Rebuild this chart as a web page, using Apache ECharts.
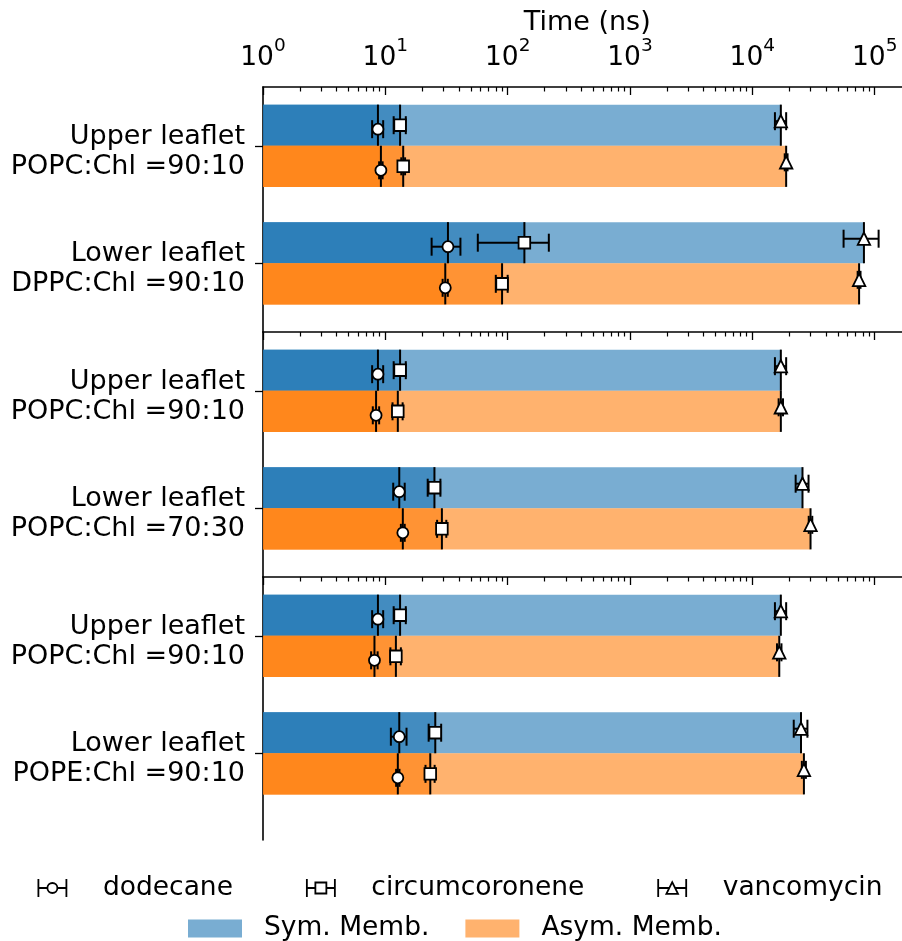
<!DOCTYPE html>
<html>
<head>
<meta charset="utf-8">
<script src="https://cdn.jsdelivr.net/npm/echarts@6/dist/echarts.min.js"></script>
<style>
  html, body { margin: 0; padding: 0; background: #fff; }
  #chart { width: 902px; height: 941px; }
</style>
</head>
<body>
<div id="chart"></div>
<script>
// Row labels per panel (top row = upper leaflet, bottom row = lower leaflet)
const rowLabels = [
  ['Upper leaflet\nPOPC:Chl =90:10', 'Lower leaflet\nDPPC:Chl =90:10'],
  ['Upper leaflet\nPOPC:Chl =90:10', 'Lower leaflet\nPOPC:Chl =70:30'],
  ['Upper leaflet\nPOPC:Chl =90:10', 'Lower leaflet\nPOPE:Chl =90:10']
];
const molecules = ['dodecane', 'circumcoronene', 'vancomycin'];
const membranes = ['Sym. Memb.', 'Asym. Memb.'];
const tickExponents = [0, 1, 2, 3, 4, 5];

// Times (ns) per row, in order: panel1 upper, panel1 lower, panel2 upper, panel2 lower, panel3 upper, panel3 lower
const symDodecane       = [8.7, 32.5, 8.7, 13.0, 8.7, 13.0];
const symDodecaneErr    = [0.9, 8.6, 0.9, 1.4, 0.9, 1.9];
const symCircum         = [13.2, 137, 13.2, 25.2, 13.2, 25.6];
const symCircumErr      = [1.5, 80, 1.5, 3.0, 1.5, 3.0];
const symVancomycin     = [17100, 81700, 17100, 25700, 17100, 25000];
const symVancomycinErr  = [1800, 26000, 1800, 3100, 1800, 3200];

const asymDodecane      = [9.2, 30.9, 8.4, 13.9, 8.15, 12.65];
const asymDodecaneErr   = [0.3, 1.5, 0.5, 0.5, 0.5, 0.4];
const asymCircum        = [14.0, 90, 12.65, 29.0, 12.2, 23.3];
const asymCircumErr     = [0.5, 10, 1.2, 2.5, 1.2, 2.0];
const asymVancomycin    = [18900, 74600, 17100, 29900, 16600, 26400];
const asymVancomycinErr = [500, 2000, 700, 1000, 700, 1000];

const FONT = 'DejaVu Sans';
const FS = 27;
const FS_LEGEND = 26.5;
const X_MAX = 2e5;
const BAR = 0.35;            // bar thickness in row units
const LABEL_DROP = 0.05;     // row labels sit slightly below their tick
const SYM_BLUE = '#1f77b4';
const ASYM_ORANGE = '#ff7f0e';
const markerShift = { dodecane: 0.034, circumcoronene: 0, vancomycin: -0.034 };

const values = {
  sym:  { dodecane: [symDodecane, symDodecaneErr], circumcoronene: [symCircum, symCircumErr], vancomycin: [symVancomycin, symVancomycinErr] },
  asym: { dodecane: [asymDodecane, asymDodecaneErr], circumcoronene: [asymCircum, asymCircumErr], vancomycin: [asymVancomycin, asymVancomycinErr] }
};

// minor ticks at 2..9 x 10^n, expressed as exponents for the helper axis
const minorTickExps = [];
for (let d = 0; d <= 5; d++) {
  for (let k = 2; k <= 9; k++) {
    const v = Math.log10(k * Math.pow(10, d));
    if (v < Math.log10(X_MAX)) minorTickExps.push(v);
  }
}

function fmtTick(val) {
  const e = Math.log10(val);
  const k = tickExponents.find(t => Math.abs(t - e) < 1e-6);
  return k === undefined ? '' : '{b|10}{e|' + k + '}';
}

// three overlapping translucent bars: to dodecane, circumcoronene and vancomycin times
function barRender(memb, color) {
  return function (params, api) {
    const r = api.value(0);
    const yA = api.coord([1, memb === 0 ? r - BAR : r])[1];
    const yB = api.coord([1, memb === 0 ? r : r + BAR])[1];
    const x0 = api.coord([1, r])[0];
    const children = [api.value(3), api.value(2), api.value(1)].map(v => {
      const x1 = api.coord([v, r])[0];
      return {
        type: 'rect',
        shape: { x: x0, y: Math.min(yA, yB), width: x1 - x0, height: Math.abs(yB - yA) },
        style: { fill: color, opacity: 0.6 }
      };
    });
    return { type: 'group', children };
  };
}

function markerShape(mol, x, y) {
  const st = { fill: '#fff', stroke: '#000', lineWidth: 1.8 };
  if (mol === 'dodecane') return { type: 'circle', shape: { cx: x, cy: y, r: 5.5 }, style: st };
  if (mol === 'circumcoronene') return { type: 'rect', shape: { x: x - 5.8, y: y - 5.8, width: 11.6, height: 11.6 }, style: st };
  return { type: 'polygon', shape: { points: [[x, y - 6.2], [x - 6.2, y + 6.2], [x + 6.2, y + 6.2]] }, style: st };
}

// marker with a vertical line across its bar and a horizontal error bar with caps
function markerRender(mol) {
  return function (params, api) {
    const r = api.value(0), memb = api.value(1), v = api.value(2), e = api.value(3);
    const yTop = api.coord([v, memb === 0 ? r - BAR : r])[1];
    const yBot = api.coord([v, memb === 0 ? r : r + BAR])[1];
    const ym = api.coord([v, r + (memb === 0 ? -BAR / 2 : BAR / 2) + markerShift[mol]])[1];
    const xv = api.coord([v, r])[0];
    const xl = api.coord([v - e, r])[0];
    const xr = api.coord([v + e, r])[0];
    const ls = { stroke: '#000', lineWidth: 2 };
    return {
      type: 'group',
      children: [
        { type: 'line', shape: { x1: xv, y1: yTop, x2: xv, y2: yBot }, style: ls },
        { type: 'line', shape: { x1: xl, y1: ym, x2: xr, y2: ym }, style: ls },
        { type: 'line', shape: { x1: xl, y1: ym - 9, x2: xl, y2: ym + 9 }, style: ls },
        { type: 'line', shape: { x1: xr, y1: ym - 9, x2: xr, y2: ym + 9 }, style: ls },
        markerShape(mol, xv, ym)
      ]
    };
  };
}

const panelTops = [87, 332, 577];
const panelHeights = [245, 245, 263];
const panelMax = [1.585, 1.585, 1.738];

const grids = [], xAxes = [], yAxes = [], series = [];
for (let p = 0; p < 3; p++) {
  grids.push({ left: 263, top: panelTops[p], width: 648.5, height: panelHeights[p], containLabel: false, outerBoundsMode: 'none' });
  xAxes.push({
    type: 'log', logBase: 10, gridIndex: p, position: 'top', min: 1, max: X_MAX, splitNumber: 5,
    axisLine: { show: true, onZero: false, lineStyle: { color: '#000', width: 1.6 } },
    axisTick: { show: true, inside: true, length: 8, lineStyle: { color: '#000', width: 1.3 } },
    axisLabel: {
      show: p === 0, margin: 15, formatter: fmtTick, showMaxLabel: false,
      rich: {
        b: { fontFamily: FONT, fontSize: 26.5, color: '#000', lineHeight: 35, verticalAlign: 'bottom' },
        e: { fontFamily: FONT, fontSize: 18.5, color: '#000', lineHeight: 18.5, verticalAlign: 'top' }
      }
    },
    splitLine: { show: false },
    name: p === 0 ? 'Time (ns)' : '',
    nameLocation: 'middle', nameGap: 44,
    nameTextStyle: { fontFamily: FONT, fontSize: FS, color: '#000' }
  });
  xAxes.push({
    type: 'value', gridIndex: p, position: 'top', min: 0, max: Math.log10(X_MAX),
    axisLine: { show: false, onZero: false },
    axisTick: { show: true, inside: true, length: 4.5, customValues: minorTickExps, lineStyle: { color: '#000', width: 1.2 } },
    axisLabel: { show: false },
    splitLine: { show: false }
  });
  yAxes.push({
    type: 'value', gridIndex: p, inverse: true, min: -0.5, max: panelMax[p],
    axisLine: { show: true, onZero: false, lineStyle: { color: '#000', width: 1.6 } },
    axisTick: { show: true, inside: false, length: 8, customValues: [0, 1], lineStyle: { color: '#000', width: 1.3 } },
    axisLabel: {
      show: true, customValues: [LABEL_DROP, 1 + LABEL_DROP], margin: 18,
      formatter: (v) => rowLabels[p][Math.round(v)],
      fontFamily: FONT, fontSize: FS, color: '#000', lineHeight: 30, align: 'right'
    },
    splitLine: { show: false }
  });

  const rows = [0, 1];
  const idx = (r) => p * 2 + r;
  series.push({
    type: 'custom', name: membranes[0], xAxisIndex: p * 2, yAxisIndex: p, z: 2, silent: true,
    itemStyle: { color: SYM_BLUE },
    encode: { x: [1, 2, 3], y: 0 },
    data: rows.map(r => [r, symDodecane[idx(r)], symCircum[idx(r)], symVancomycin[idx(r)]]),
    renderItem: barRender(0, SYM_BLUE)
  });
  series.push({
    type: 'custom', name: membranes[1], xAxisIndex: p * 2, yAxisIndex: p, z: 2, silent: true,
    itemStyle: { color: ASYM_ORANGE },
    encode: { x: [1, 2, 3], y: 0 },
    data: rows.map(r => [r, asymDodecane[idx(r)], asymCircum[idx(r)], asymVancomycin[idx(r)]]),
    renderItem: barRender(1, ASYM_ORANGE)
  });
  molecules.forEach(mol => {
    const data = [];
    rows.forEach(r => {
      ['sym', 'asym'].forEach((m, mi) => {
        const [vals, errs] = values[m][mol];
        data.push([r, mi, vals[idx(r)], errs[idx(r)]]);
      });
    });
    series.push({
      type: 'custom', name: mol, xAxisIndex: p * 2, yAxisIndex: p, z: 5, silent: true,
      itemStyle: { color: '#fff', borderColor: '#000' },
      encode: { x: 2, y: 0 },
      data,
      renderItem: markerRender(mol)
    });
  });
}

const legendIcons = {
  dodecane: 'path://M0,0L0,18M0,9L9,9M19,9A5,5,0,1,1,9,9A5,5,0,1,1,19,9ZM19,9L28,9M28,0L28,18',
  circumcoronene: 'path://M0,0L0,18M0,9L8.5,9M8.5,3.5L19.5,3.5L19.5,14.5L8.5,14.5ZM19.5,9L28,9M28,0L28,18',
  vancomycin: 'path://M0,0L0,18M0,9L11.1,9M14,3.2L19.8,14.8L8.2,14.8ZM16.9,9L28,9M28,0L28,18'
};

const option = {
  animation: false,
  backgroundColor: '#fff',
  textStyle: { fontFamily: FONT },
  grid: grids,
  xAxis: xAxes,
  yAxis: yAxes,
  legend: [
    {
      left: 37.5, top: 874.5, padding: 0, itemGap: 73, itemWidth: 28, itemHeight: 18, selectedMode: false,
      textStyle: { fontFamily: FONT, fontSize: FS_LEGEND, color: '#000', padding: [0, 0, 0, 31.5] },
      data: molecules.map(m => ({ name: m, icon: legendIcons[m], itemStyle: { color: '#fff', borderColor: '#000', borderWidth: 1.8 } }))
    },
    {
      left: 188, top: 915, padding: 0, itemGap: 36, itemWidth: 54, itemHeight: 18, selectedMode: false,
      textStyle: { fontFamily: FONT, fontSize: FS_LEGEND, color: '#000', padding: [0, 0, 0, 17] },
      data: [
        { name: membranes[0], icon: 'rect', itemStyle: { color: '#79add2', borderWidth: 0 } },
        { name: membranes[1], icon: 'rect', itemStyle: { color: '#ffb26e', borderWidth: 0 } }
      ]
    }
  ],
  series
};

const chart = echarts.init(document.getElementById('chart'), null, { renderer: 'canvas' });
chart.setOption(option);
</script>
</body>
</html>
